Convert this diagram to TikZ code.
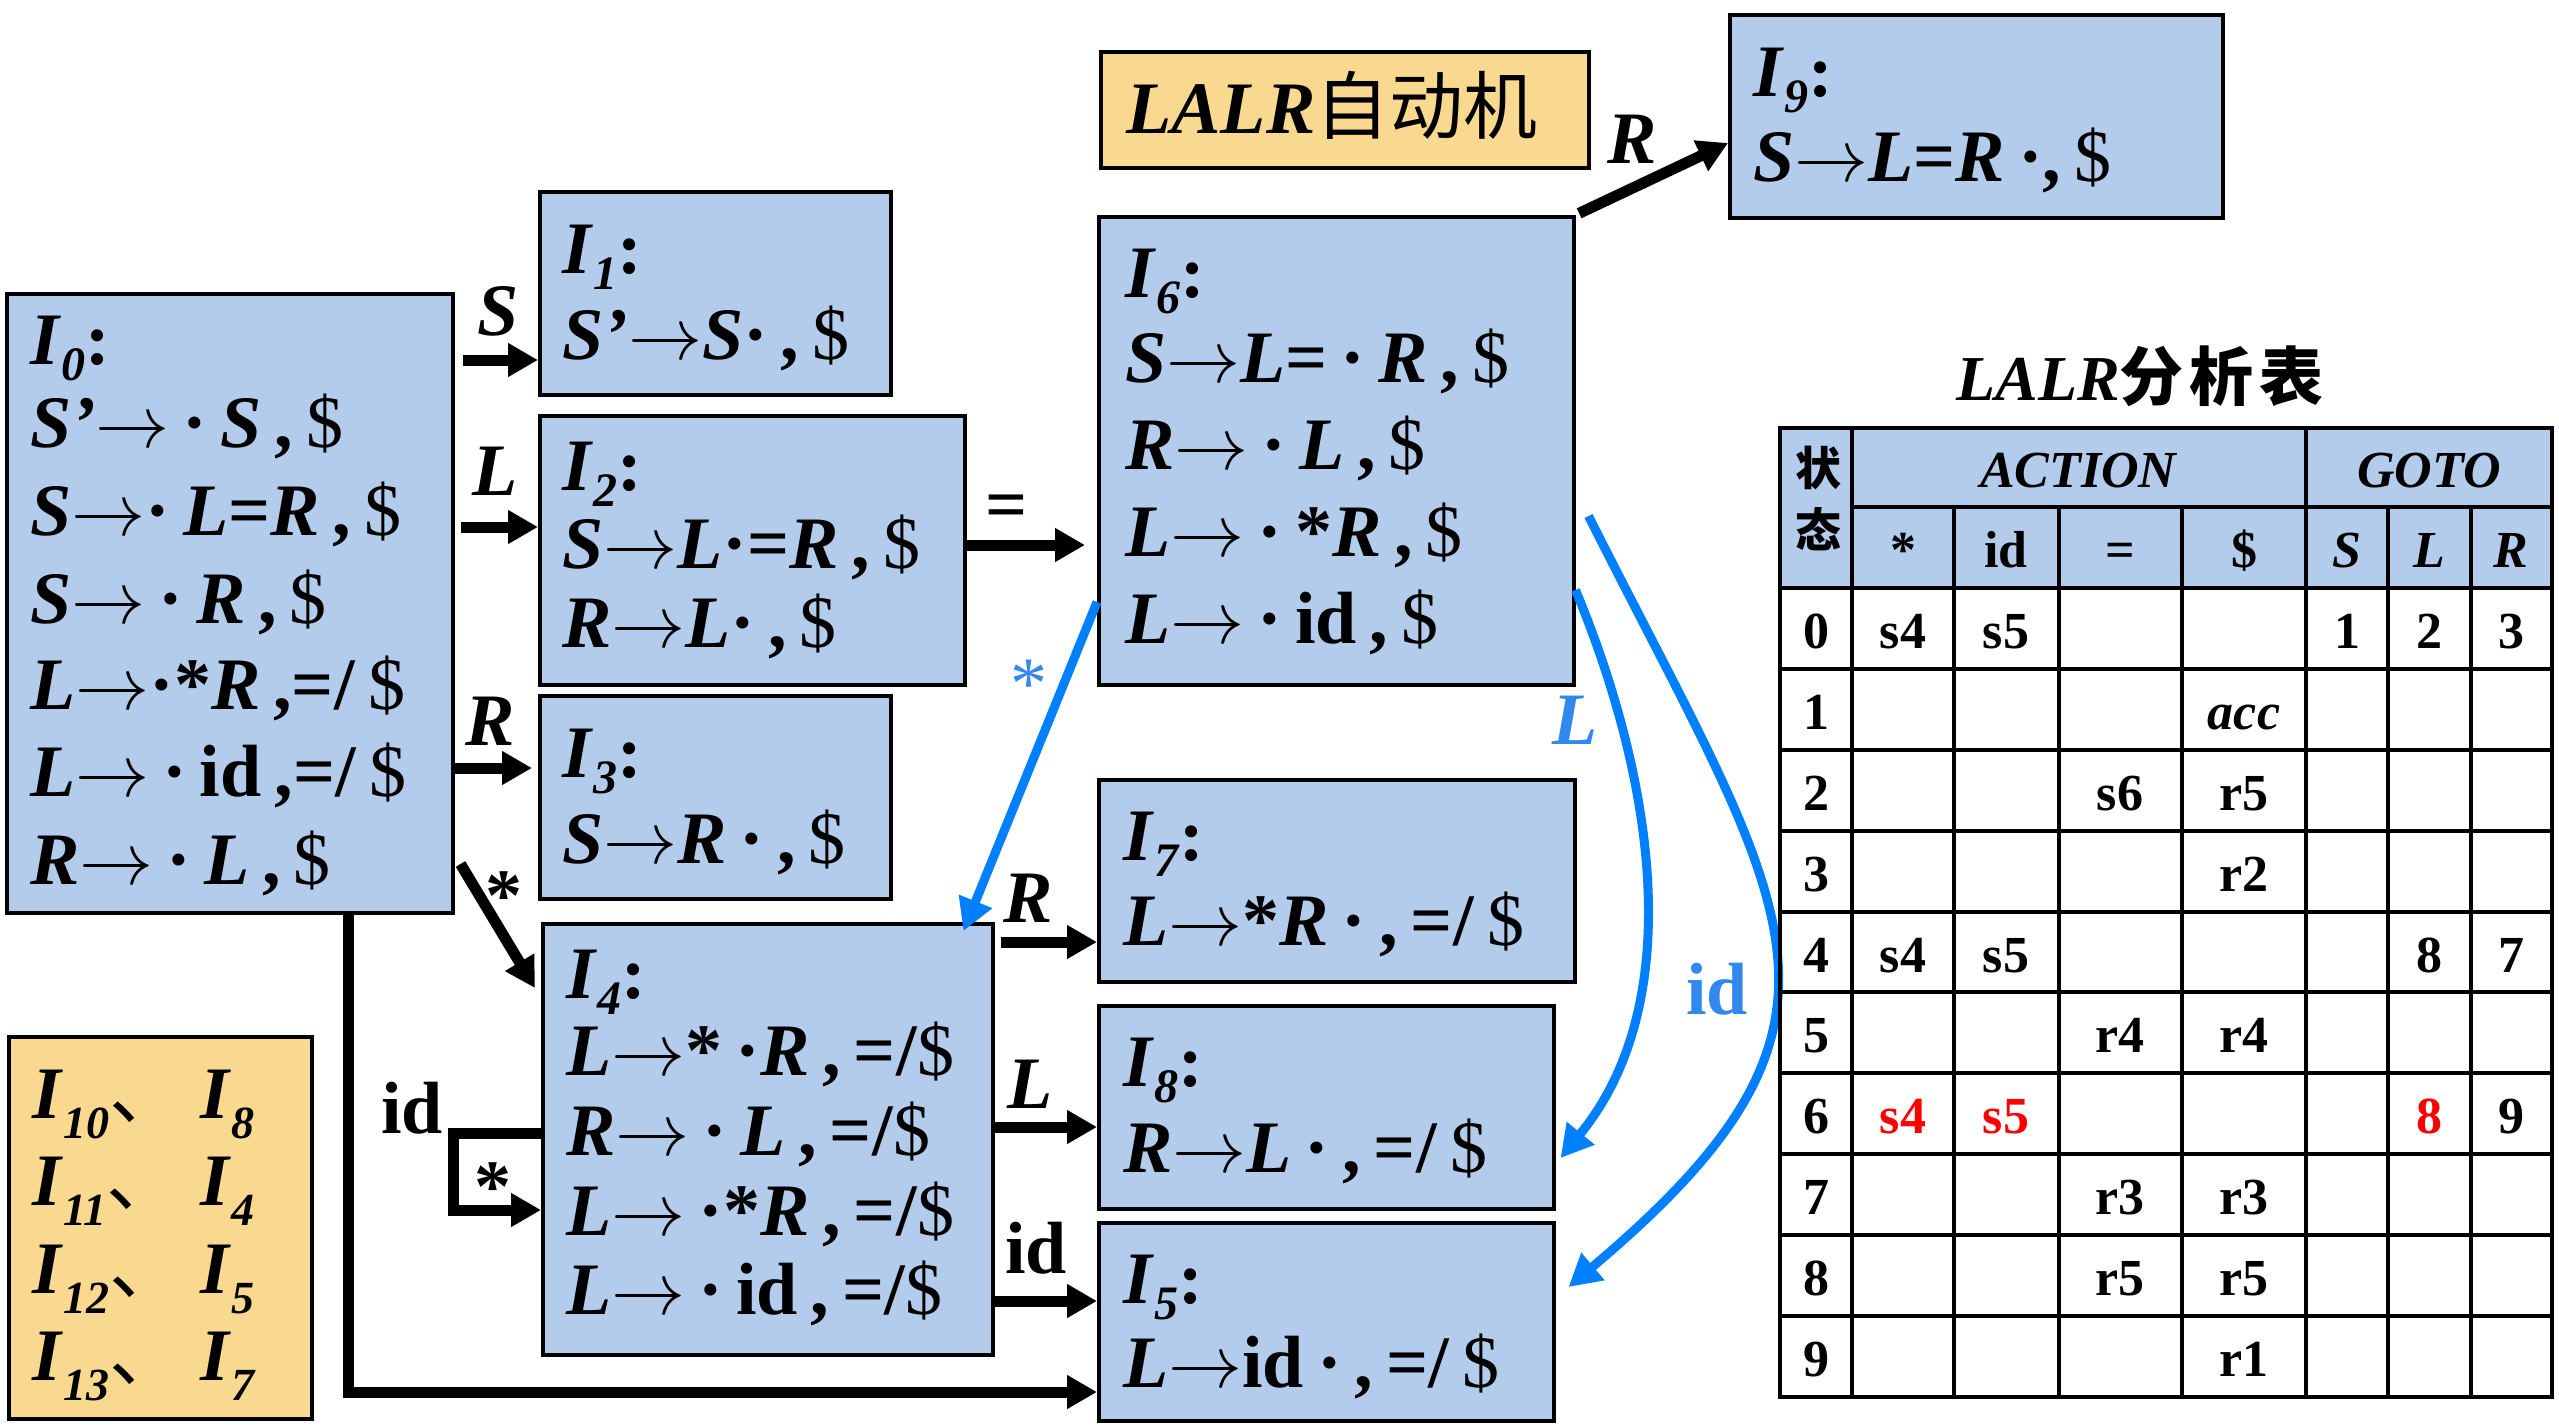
\RequirePackage{fix-cm}
\documentclass[tikz,border=0pt]{standalone}
\usepackage{fontspec}
\setmainfont{Liberation Serif}
\newfontfamily\cjk{Noto Sans CJK SC}
\usetikzlibrary{arrows.meta,calc}
\definecolor{boxblue}{RGB}{180,204,236}
\definecolor{boxyellow}{RGB}{249,216,143}
\definecolor{arrblue}{RGB}{0,128,255}
\definecolor{lblblue}{RGB}{51,136,238}
\definecolor{cellred}{RGB}{255,0,0}
\newcommand{\V}[1]{\textbf{\textit{#1}}}
\newcommand{\B}[1]{\textbf{#1}}
\newcommand{\RA}{\ensuremath{\rightarrow}}
\newcommand{\Dt}{\textbf{·}}
\newcommand{\SP}{\hspace{13pt}}
\newcommand{\Ist}[1]{\V{I}\raisebox{-16pt}{\fontsize{48}{48}\selectfont\V{#1}}\B{:}}
\newcommand{\Isub}[1]{\V{I}\raisebox{-20pt}{\fontsize{46}{46}\selectfont\V{#1}}}
\begin{document}
\begin{tikzpicture}[x=1pt,y=-1pt,
 box/.style={draw=black,line width=3.5pt,fill=boxblue,inner sep=0pt,anchor=north west},
 ybox/.style={box,fill=boxyellow},
 txt/.style={font=\fontsize{74}{88}\selectfont,inner sep=0pt,anchor=base west},
 lbl/.style={font=\fontsize{74}{88}\selectfont,inner sep=0pt,anchor=base},
 blk/.style={line width=11pt,-{Triangle[length=30pt,width=32pt]}},
 blu/.style={draw=arrblue,line width=9pt,-{Triangle[length=32pt,width=34pt]}},
 cellt/.style={font=\fontsize{52}{60}\selectfont\bfseries,inner sep=0pt,anchor=base},
 tline/.style={line width=4.5pt,draw=black}
]
\useasboundingbox (0,0) rectangle (2559,1425);

% ---------- boxes ----------
\node[box,minimum width=446pt,minimum height=619pt] (I0) at (5,292) {};
\node[box,minimum width=351pt,minimum height=203pt] (I1) at (538,190) {};
\node[box,minimum width=425pt,minimum height=269pt] (I2) at (538,414) {};
\node[box,minimum width=351pt,minimum height=203pt] (I3) at (538,694) {};
\node[box,minimum width=450pt,minimum height=431pt] (I4) at (541,922) {};
\node[box,minimum width=475pt,minimum height=468pt] (I6) at (1097,215) {};
\node[box,minimum width=493pt,minimum height=203pt] (I9) at (1728,13) {};
\node[ybox,minimum width=488pt,minimum height=116pt] (LB) at (1099,50) {};
\node[box,minimum width=476pt,minimum height=202pt] (I7) at (1097,778) {};
\node[box,minimum width=455pt,minimum height=203pt] (I8) at (1097,1004) {};
\node[box,minimum width=455pt,minimum height=198pt] (I5) at (1097,1221) {};
\node[ybox,minimum width=303pt,minimum height=382pt] (YB) at (7,1035) {};

% ---------- box texts ----------
\node[txt] (t0a) at (30,364) {\Ist{0}};
\node[txt] (t0b) at (30,447) {\V{S'}\RA\SP\Dt\SP\V{S}\SP\B{,}\SP\$};
\node[txt] (t0c) at (30,535) {\V{S}\RA\Dt\SP\V{L}\B{=}\V{R}\SP\B{,}\SP\$};
\node[txt] (t0d) at (30,623) {\V{S}\RA\SP\Dt\SP\V{R}\SP\B{,}\SP\$};
\node[txt] (t0e) at (30,709) {\V{L}\RA\Dt\B{*}\V{R}\SP\B{,=/}\SP\$};
\node[txt] (t0f) at (30,796) {\V{L}\RA\SP\Dt\SP\B{id}\SP\B{,=/}\SP\$};
\node[txt] (t0g) at (30,884) {\V{R}\RA\SP\Dt\SP\V{L}\SP\B{,}\SP\$};

\node[txt] (t1a) at (562,273) {\Ist{1}};
\node[txt] (t1b) at (562,359) {\V{S'}\RA\V{S}\Dt\SP\B{,}\SP\$};

\node[txt] (t2a) at (562,490) {\Ist{2}};
\node[txt] (t2b) at (562,568) {\V{S}\RA\V{L}\Dt\B{=}\V{R}\SP\B{,}\SP\$};
\node[txt] (t2c) at (562,647) {\V{R}\RA\V{L}\Dt\SP\B{,}\SP\$};

\node[txt] (t3a) at (562,777) {\Ist{3}};
\node[txt] (t3b) at (562,863) {\V{S}\RA\V{R}\SP\Dt\SP\B{,}\SP\$};

\node[txt] (t4a) at (566,998) {\Ist{4}};
\node[txt] (t4b) at (566,1075) {\V{L}\RA\B{*}\SP\Dt\V{R}\SP\B{,}\SP\B{=/}\$};
\node[txt] (t4c) at (566,1155) {\V{R}\RA\SP\Dt\SP\V{L}\SP\B{,}\SP\B{=/}\$};
\node[txt] (t4d) at (566,1235) {\V{L}\RA\SP\Dt\B{*}\V{R}\SP\B{,}\SP\B{=/}\$};
\node[txt] (t4e) at (566,1314) {\V{L}\RA\SP\Dt\SP\B{id}\SP\B{,}\SP\B{=/}\$};

\node[txt] (t6a) at (1125,297) {\Ist{6}};
\node[txt] (t6b) at (1125,382) {\V{S}\RA\V{L}\B{=}\SP\Dt\SP\V{R}\SP\B{,}\SP\$};
\node[txt] (t6c) at (1125,469) {\V{R}\RA\SP\Dt\SP\V{L}\SP\B{,}\SP\$};
\node[txt] (t6d) at (1125,556) {\V{L}\RA\SP\Dt\SP\B{*}\V{R}\SP\B{,}\SP\$};
\node[txt] (t6e) at (1125,643) {\V{L}\RA\SP\Dt\SP\B{id}\SP\B{,}\SP\$};

\node[txt] (t9a) at (1753,96) {\Ist{9}};
\node[txt] (t9b) at (1753,181) {\V{S}\RA\V{L}\B{=}\V{R}\SP\Dt\B{,}\SP\$};

\node[txt] (t7a) at (1123,860) {\Ist{7}};
\node[txt] (t7b) at (1123,945) {\V{L}\RA\B{*}\V{R}\SP\Dt\SP\B{,}\SP\B{=/}\SP\$};

\node[txt] (t8a) at (1123,1086) {\Ist{8}};
\node[txt] (t8b) at (1123,1172) {\V{R}\RA\V{L}\SP\Dt\SP\B{,}\SP\B{=/}\SP\$};

\node[txt] (t5a) at (1123,1303) {\Ist{5}};
\node[txt] (t5b) at (1123,1387) {\V{L}\RA\B{id}\SP\Dt\SP\B{,}\SP\B{=/}\SP\$};

\node[txt] (tlb) at (1126,133) {\V{LALR}{\cjk 自动机}};

\node[txt] (y1a) at (32,1118) {\Isub{10}{\cjk 、}};
\node[txt] (y1b) at (200,1118) {\Isub{8}};
\node[txt] (y2a) at (32,1205) {\Isub{11}{\cjk 、}};
\node[txt] (y2b) at (200,1205) {\Isub{4}};
\node[txt] (y3a) at (32,1293) {\Isub{12}{\cjk 、}};
\node[txt] (y3b) at (200,1293) {\Isub{5}};
\node[txt] (y4a) at (32,1380) {\Isub{13}{\cjk 、}};
\node[txt] (y4b) at (200,1380) {\Isub{7}};

% ---------- black connectors ----------
\draw[blk,shorten <=8pt] (I0.east |- 0,360) -- (I1.west |- 0,360);
\draw[blk,shorten <=6pt] (I0.east |- 0,527) -- (I2.west |- 0,527);
\draw[blk,shorten >=6pt] (I0.east |- 0,768) -- (I3.west |- 0,768);
\draw[blk] ($(I0.east |- 0,864)+(6,0)$) -- ($(I4.west |- 0,988)+(-6,0)$);
\draw[blk,shorten >=12pt] (I2.east |- 0,545) -- (I6.west |- 0,545);
\draw[blk,shorten <=4pt] (I6.north east) -- (I9.west |- 0,143);
\draw[blk,shorten <=6pt] (I4.east |- 0,942) -- (I7.west |- 0,942);
\draw[blk] (I4.east |- 0,1127) -- (I8.west |- 0,1127);
\draw[blk] (I4.east |- 0,1301) -- (I5.west |- 0,1301);
\draw[blk] (I4.west |- 0,1133) -- (453,1133) |- (I4.west |- 0,1210);
\draw[blk] (I0.south -| 348,0) -- (348,1392) -- (I5.west |- 0,1392);

\node[lbl] (lS) at (498,335) {\V{S}};
\node[lbl] (lL) at (495,495) {\V{L}};
\node[lbl] (lR) at (490,745) {\V{R}};
\node[lbl] (lst) at (504,920) {\B{*}};
\node[lbl] (leq) at (1007,529) {\B{=}};
\node[lbl] (lR9) at (1632,163) {\V{R}};
\node[lbl] (lR7) at (1028,922) {\V{R}};
\node[lbl] (lL8) at (1030,1108) {\V{L}};
\node[lbl] (lid5) at (1036,1273) {\B{id}};
\node[lbl] (lidl) at (412,1133) {\B{id}};
\node[lbl] (lstl) at (493,1211) {\B{*}};

% ---------- blue connectors ----------
\draw[blu] (I6.west |- 0,602) -- ($(I4.north east)+(-31,9)$);
\draw[blu] (I6.east |- 0,590) .. controls (1652,774) and (1690,1000) .. ($(I8.east |- 0,1158)+(5,0)$);
\draw[blu] ($(I6.east |- 0,516)+(13,0)$) .. controls (1790,916) and (1888,1018) .. ($(I5.east |- 0,1287)+(13,0)$);
\node[lbl,text=lblblue] (bst) at (1029,708) {*};
\node[lbl,text=lblblue,anchor=base west] (bL) at (1552,744) {\V{L}};
\node[lbl,text=lblblue] (bid) at (1717,1014) {\B{id}};

% ---------- table ----------
\node[font=\fontsize{64}{70}\selectfont,inner sep=0pt,anchor=base] (ttl) at (2140,400) {\V{LALR}{\cjk\bfseries 分\hspace{6pt}析\hspace{6pt}表}};
\fill[boxblue] (1780,428) rectangle (2552,588);
\foreach \yy in {588,669,750,831,912,992,1073,1154,1235,1316}
  \draw[tline] (1780,\yy) -- (2552,\yy);
\draw[tline] (1852,507) -- (2552,507);
\foreach \xx in {1954,2059,2182,2388,2471}
  \draw[tline] (\xx,507) -- (\xx,1397);
\draw[tline] (1852,428) -- (1852,1397);
\draw[tline] (2306,428) -- (2306,1397);
\draw[tline] (1780,428) rectangle (2552,1397);

\node[font=\fontsize{46}{50}\selectfont\cjk\bfseries,inner sep=0pt] (zt1) at (1818,468) {状};
\node[font=\fontsize{46}{50}\selectfont\cjk\bfseries,inner sep=0pt] (zt2) at (1818,529) {态};
\node[cellt] (hA) at (2079,487) {\V{ACTION}};
\node[cellt] (hG) at (2429,487) {\V{GOTO}};
\node[cellt] (h1) at (1903,567) {*};
\node[cellt] (h2) at (2006,567) {id};
\node[cellt] (h3) at (2120,567) {=};
\node[cellt] (h4) at (2244,567) {\$};
\node[cellt] (h5) at (2347,567) {\V{S}};
\node[cellt] (h6) at (2429,567) {\V{L}};
\node[cellt] (h7) at (2511,567) {\V{R}};

\foreach \r/\yb in {0/648,1/729,2/810,3/891,4/972,5/1052,6/1133,7/1214,8/1295,9/1376}
  \node[cellt] (s\r) at (1816,\yb) {\r};

\node[cellt] (c01) at (1903,648) {s4};
\node[cellt] (c02) at (2006,648) {s5};
\node[cellt] (c05) at (2347,648) {1};
\node[cellt] (c06) at (2429,648) {2};
\node[cellt] (c07) at (2511,648) {3};
\node[cellt] (c14) at (2244,729) {\V{acc}};
\node[cellt] (c23) at (2120,810) {s6};
\node[cellt] (c24) at (2244,810) {r5};
\node[cellt] (c34) at (2244,891) {r2};
\node[cellt] (c41) at (1903,972) {s4};
\node[cellt] (c42) at (2006,972) {s5};
\node[cellt] (c46) at (2429,972) {8};
\node[cellt] (c47) at (2511,972) {7};
\node[cellt] (c53) at (2120,1052) {r4};
\node[cellt] (c54) at (2244,1052) {r4};
\node[cellt,text=cellred] (c61) at (1903,1133) {s4};
\node[cellt,text=cellred] (c62) at (2006,1133) {s5};
\node[cellt,text=cellred] (c66) at (2429,1133) {8};
\node[cellt] (c67) at (2511,1133) {9};
\node[cellt] (c73) at (2120,1214) {r3};
\node[cellt] (c74) at (2244,1214) {r3};
\node[cellt] (c83) at (2120,1295) {r5};
\node[cellt] (c84) at (2244,1295) {r5};
\node[cellt] (c94) at (2244,1376) {r1};
\end{tikzpicture}
\end{document}
